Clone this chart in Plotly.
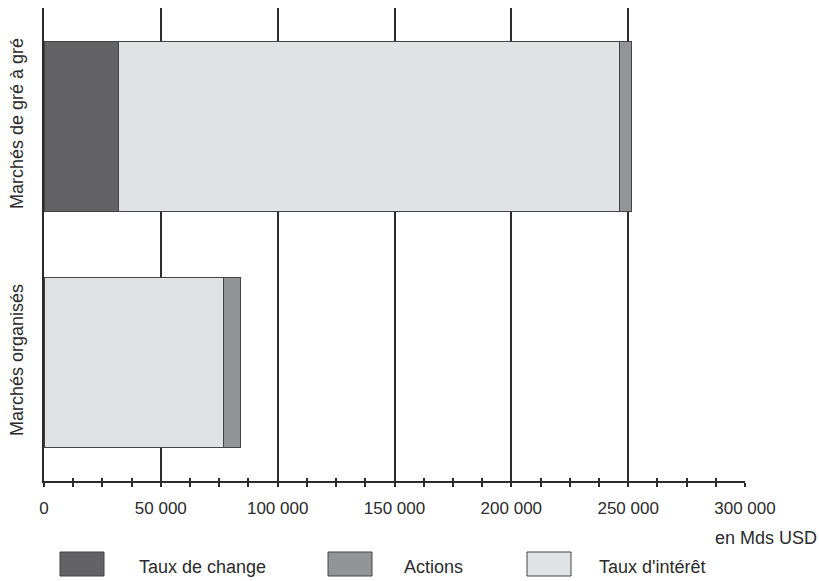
import plotly.graph_objects as go

# Encours notionnels des dérivés, par type de marché (en Mds USD)
marches = ["Marchés de gré à gré", "Marchés organisés"]
taux_de_change = [32000, None]
taux_interet = [214500, 77000]
actions = [5000, 7000]

x_ticks = [0, 50000, 100000, 150000, 200000, 250000, 300000]
x_tick_labels = ["0", "50 000", "100 000", "150 000", "200 000", "250 000", "300 000"]

series = [
    ("Taux de change", taux_de_change, "#636365"),
    ("Taux d'intérêt", taux_interet, "#e1e2e4"),
    ("Actions", actions, "#939496"),
]
colors = {name: color for name, _, color in series}

W, H = 819, 581
ML, MR, MT, MB = 44, 74, 8, 100
PW, PH = W - ML - MR, H - MT - MB
FONT = "Liberation Sans, Arial, sans-serif"
INK = "#2b2b2b"


def px(x):
    return (x - ML) / PW


def py(y):
    return (H - MB - y) / PH


fig = go.Figure()
for name, values, color in series:
    fig.add_trace(go.Bar(
        y=marches, x=values, name=name, orientation="h",
        marker=dict(color=color, line=dict(color="#444444", width=1)),
        width=0.72, showlegend=False,
    ))

shapes = []
annotations = []

# Legend drawn as large swatches with labels beneath the axis
legend_items = [
    ("Taux de change", 60, 137),
    ("Actions", 328, 402),
    ("Taux d'intérêt", 527, 597),
]
for name, sx, tx in legend_items:
    shapes.append(dict(
        type="rect", xref="paper", yref="paper",
        x0=px(sx), x1=px(sx + 44), y0=py(576), y1=py(552),
        fillcolor=colors[name], line=dict(color="#444444", width=1),
    ))
    annotations.append(dict(
        text=name, xref="paper", yref="paper", x=px(tx), y=py(567),
        xanchor="left", yanchor="middle", showarrow=False,
        font=dict(family=FONT, size=18, color=INK),
    ))

annotations.append(dict(
    text="en Mds USD", xref="paper", yref="paper", x=px(713), y=py(538),
    xanchor="left", yanchor="middle", showarrow=False,
    font=dict(family=FONT, size=18, color=INK),
))

fig.update_layout(
    barmode="stack",
    width=W, height=H,
    margin=dict(l=ML, r=MR, t=MT, b=MB, pad=0),
    paper_bgcolor="white", plot_bgcolor="white",
    shapes=shapes, annotations=annotations,
    xaxis=dict(
        range=[0, 300000], tickvals=x_ticks, ticktext=x_tick_labels,
        showgrid=True, gridcolor=INK, gridwidth=1.6,
        zeroline=False, showline=True, linecolor=INK, linewidth=1.6,
        ticks="outside", ticklen=4, tickwidth=1.6, tickcolor=INK,
        minor=dict(dtick=12500, tick0=0, ticks="outside", ticklen=4,
                   tickwidth=1.6, tickcolor=INK, showgrid=False),
        tickfont=dict(family=FONT, size=17, color=INK),
        ticklabelstandoff=7,
    ),
    xaxis2=dict(
        overlaying="x", matches="x", anchor="y", side="bottom",
        range=[0, 300000], tickvals=x_ticks, showticklabels=False,
        showgrid=False, zeroline=False, showline=False,
        ticks="inside", ticklen=3, tickwidth=1.6, tickcolor=INK,
        minor=dict(dtick=12500, tick0=0, ticks="inside", ticklen=3,
                   tickwidth=1.6, tickcolor=INK),
    ),
    yaxis=dict(
        type="category", categoryarray=marches, autorange="reversed",
        showgrid=False, zeroline=False, showline=True, linecolor=INK,
        linewidth=1.6, ticks="", tickangle=-90,
        tickfont=dict(family=FONT, size=18, color=INK),
        ticklabelstandoff=12,
    ),
)

# Invisible trace so the overlay axis carrying the inner tick marks is drawn
fig.add_trace(go.Scatter(x=[0], y=[marches[0]], xaxis="x2", mode="markers",
                         marker=dict(opacity=0), hoverinfo="skip",
                         showlegend=False))

fig.write_html("out.html")
